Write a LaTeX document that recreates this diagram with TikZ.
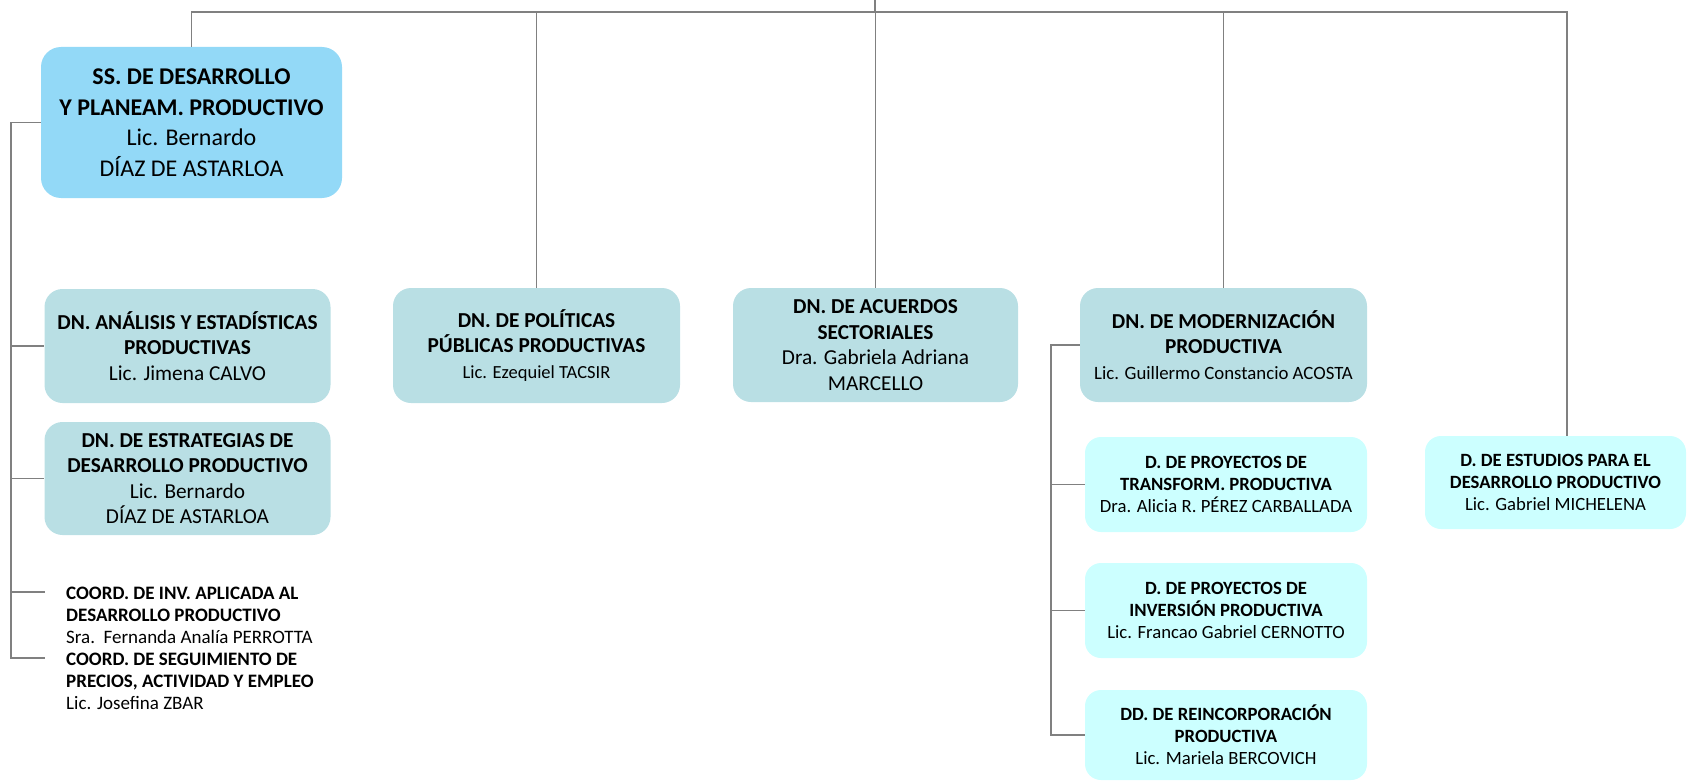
\documentclass[tikz,border=0pt]{standalone}
\usepackage{fontspec}
\setmainfont{Carlito}
\definecolor{ssblue}{HTML}{93D9F7}
\definecolor{dnteal}{HTML}{B9DFE4}
\definecolor{dcyan}{HTML}{CCFFFF}
\definecolor{lgray}{HTML}{808080}
\begin{document}
\begin{tikzpicture}[x=1pt,y=-1pt,
  conn/.style={draw=lgray,line width=1.8pt},
  ssbox/.style={rectangle,rounded corners=20pt,fill=ssblue,align=center,inner sep=0pt,
    minimum width=301pt,minimum height=151pt,font=\fontsize{24}{30.5}\selectfont},
  dnbox/.style={rectangle,rounded corners=18pt,fill=dnteal,align=center,inner sep=0pt,
    minimum width=286pt,minimum height=114pt,font=\fontsize{21.3}{25.5}\selectfont},
  dbox/.style={rectangle,rounded corners=16pt,fill=dcyan,align=center,inner sep=0pt,
    minimum width=282pt,minimum height=95pt,font=\fontsize{18.7}{22}\selectfont},
  coordtxt/.style={align=left,inner sep=0pt,anchor=west,font=\fontsize{19}{22}\selectfont}]
\useasboundingbox (0,0) rectangle (1688,781);

% nodes
\node[ssbox] (ss) at (191.5,122.5) {\textbf{SS. DE DESARROLLO}\\\textbf{Y PLANEAM. PRODUCTIVO}\\Lic. Bernardo\\DÍAZ DE ASTARLOA};
\node[dnbox] (ana) at (187.5,346) {\textbf{DN. ANÁLISIS Y ESTADÍSTICAS}\\\textbf{PRODUCTIVAS}\\Lic. Jimena CALVO};
\node[dnbox,minimum height=113pt] (est) at (187.5,478.5) {\textbf{DN. DE ESTRATEGIAS DE}\\\textbf{DESARROLLO PRODUCTIVO}\\Lic. Bernardo\\DÍAZ DE ASTARLOA};
\node[dnbox,minimum width=287pt,minimum height=115pt] (pol) at (536.5,345.5) {\textbf{DN. DE POLÍTICAS}\\\textbf{PÚBLICAS PRODUCTIVAS}\\{\fontsize{18.5}{25.5}\selectfont Lic. Ezequiel TACSIR}};
\node[dnbox,minimum width=285pt] (acu) at (875.5,345) {\textbf{DN. DE ACUERDOS}\\\textbf{SECTORIALES}\\Dra. Gabriela Adriana\\MARCELLO};
\node[dnbox,minimum width=287pt] (mod) at (1223.5,345) {\textbf{DN. DE MODERNIZACIÓN}\\\textbf{PRODUCTIVA}\\{\fontsize{18.8}{25.5}\selectfont Lic. Guillermo Constancio ACOSTA}};
\node[dbox] (tra) at (1226,484.5) {\textbf{D. DE PROYECTOS DE}\\\textbf{TRANSFORM. PRODUCTIVA}\\Dra. Alicia R. PÉREZ CARBALLADA};
\node[dbox] (inv) at (1226,610.5) {\textbf{D. DE PROYECTOS DE}\\\textbf{INVERSIÓN PRODUCTIVA}\\Lic. Francao Gabriel CERNOTTO};
\node[dbox,minimum height=90pt] (rei) at (1226,735) {\textbf{DD. DE REINCORPORACIÓN}\\\textbf{PRODUCTIVA}\\Lic. Mariela BERCOVICH};
\node[dbox,minimum width=261pt,minimum height=93pt] (dep) at (1555.5,482.5) {\textbf{D. DE ESTUDIOS PARA EL}\\\textbf{DESARROLLO PRODUCTIVO}\\Lic. Gabriel MICHELENA};
\node[coordtxt] (c1) at (66,615) {\textbf{COORD. DE INV. APLICADA AL}\\\textbf{DESARROLLO PRODUCTIVO}\\Sra.\ \ Fernanda Analía PERROTTA};
\node[coordtxt] (c2) at (66,681) {\textbf{COORD. DE SEGUIMIENTO DE}\\\textbf{PRECIOS, ACTIVIDAD Y EMPLEO}\\Lic. Josefina ZBAR};

% helper coordinates
\coordinate (top) at (875,0);
\coordinate (busL) at (191,12);
\coordinate (busR) at (1567,12);
\coordinate (spL) at (11,0);
\coordinate (spM) at (1051,0);
\coordinate (cb1) at (45,592);
\coordinate (cb2) at (45,658);

% top bus
\draw[conn] (top) -- (top |- busL);
\draw[conn] (ss.north) -- (ss.north |- busL) -- (busR) -- (busR |- dep.north);
\draw[conn] (pol.north) -- (pol.north |- busL);
\draw[conn] (acu.north) -- (acu.north |- busL);
\draw[conn] (mod.north) -- (mod.north |- busL);

% left spine
\draw[conn] (ss.west) -- (spL |- ss.west) -- (spL |- cb2) -- (cb2);
\draw[conn] (spL |- ana.west) -- (ana.west);
\draw[conn] (spL |- est.west) -- (est.west);
\draw[conn] (spL |- cb1) -- (cb1);

% modernizacion spine
\draw[conn] (mod.west) -- (spM |- mod.west) -- (spM |- rei.west) -- (rei.west);
\draw[conn] (spM |- tra.west) -- (tra.west);
\draw[conn] (spM |- inv.west) -- (inv.west);
\end{tikzpicture}
\end{document}
